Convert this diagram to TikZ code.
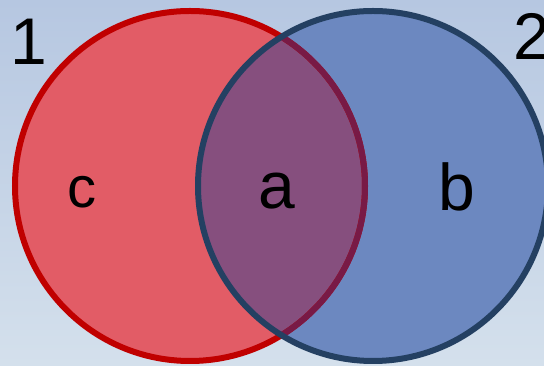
\documentclass[tikz,border=0pt]{standalone}
\usepackage{fontspec}
\setmainfont{Liberation Sans}
\usepackage{xcolor}
\usepackage{tikz}
\usetikzlibrary{positioning}

\definecolor{skytop}{RGB}{182,199,225}
\definecolor{skybot}{RGB}{212,224,236}
\definecolor{setred}{RGB}{226,92,102}
\definecolor{edgered}{RGB}{192,0,0}
\definecolor{setblue}{RGB}{108,136,192}
\definecolor{edgeblue}{RGB}{36,64,98}
\definecolor{setboth}{RGB}{134,79,126}
\definecolor{edgeboth}{RGB}{120,26,70}

\begin{document}
\begin{tikzpicture}[
  x=1pt, y=1pt,
  setlabel/.style={anchor=base, inner sep=0pt, font=\fontsize{66}{70}\selectfont},
  rim/.style={line width=6pt}
]
\useasboundingbox (0,0) rectangle (544,366);
\shade[top color=skytop, bottom color=skybot] (0,0) rectangle (544,366);

\coordinate (one) at (190,180);
\coordinate (two) at (373,180);

% fills
\fill[setred] (one) circle (175);
\fill[setblue] (two) circle (175);
\begin{scope}
  \clip (one) circle (175);
  \fill[setboth] (two) circle (175);
\end{scope}

% rims
\draw[rim, edgered] (one) circle (175);
\begin{scope}
  \clip (two) circle (175);
  \draw[rim, edgeboth] (one) circle (175);
\end{scope}
\draw[rim, edgeblue] (two) circle (175);

\node[setlabel] (lab1) at (29,301) {1};
\node[setlabel] (lab2) at (532,306) {2};
\node[setlabel, font=\fontsize{58}{62}\selectfont] (labc) at (82,158) {c};
\node[setlabel] (laba) at (277,157) {a};
\node[setlabel] (labb) at (457,155) {b};
\end{tikzpicture}
\end{document}
